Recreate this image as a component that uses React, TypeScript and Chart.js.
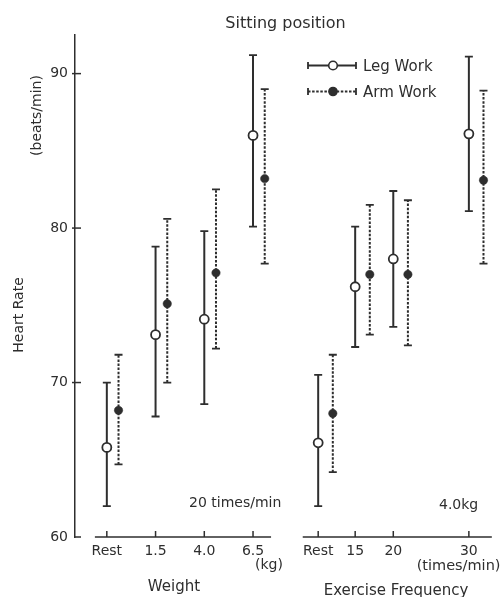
import React, { useEffect, useRef } from 'react';
import { Chart, registerables } from 'chart.js';

Chart.register(...registerables);

// ---------- data ----------
const weightLabels = ['Rest', '1.5', '4.0', '6.5'];
const freqLabels = ['Rest', '15', '20', '30'];

const legWeightMean = [65.8, 73.1, 74.1, 86.0];
const legWeightLow = [62.0, 67.8, 68.6, 80.1];
const legWeightHigh = [70.0, 78.8, 79.8, 91.2];
const armWeightMean = [68.2, 75.1, 77.1, 83.2];
const armWeightLow = [64.7, 70.0, 72.2, 77.7];
const armWeightHigh = [71.8, 80.6, 82.5, 89.0];

const legFreqMean = [66.1, 76.2, 78.0, 86.1];
const legFreqLow = [62.0, 72.3, 73.6, 81.1];
const legFreqHigh = [70.5, 80.1, 82.4, 91.1];
const armFreqMean = [68.0, 77.0, 77.0, 83.1];
const armFreqLow = [64.2, 73.1, 72.4, 77.7];
const armFreqHigh = [71.8, 81.5, 81.8, 88.9];

const yTicks = [60, 70, 80, 90];

// ---------- layout (x positions of the categories on a linear axis) ----------
const WEIGHT_POS = [0, 1, 2, 3];
const FREQ_POS = [4.337, 5.096, 5.878, 7.429];
const ARM_SHIFT_W = 0.24;
const ARM_SHIFT_F = 0.3;
const X_MIN = -0.653;
const X_MAX = 7.959;
const Y_MIN = 60;
const Y_MAX = 92.5;
const LEFT_AXIS_SEG = [-0.245, 3.37];
const RIGHT_AXIS_SEG = [4.02, 7.9];

const INK = '#2e2e2e';
const FONT = '"DejaVu Sans", sans-serif';

const tickPos = [...WEIGHT_POS, ...FREQ_POS];
const tickLabels = [...weightLabels, ...freqLabels];

const legPoints = [
  ...WEIGHT_POS.map((p, i) => ({ x: p, y: legWeightMean[i] })),
  ...FREQ_POS.map((p, i) => ({ x: p, y: legFreqMean[i] })),
];
const armPoints = [
  ...WEIGHT_POS.map((p, i) => ({ x: p + ARM_SHIFT_W, y: armWeightMean[i] })),
  ...FREQ_POS.map((p, i) => ({ x: p + ARM_SHIFT_F, y: armFreqMean[i] })),
];
const legLow = [...legWeightLow, ...legFreqLow];
const legHigh = [...legWeightHigh, ...legFreqHigh];
const armLow = [...armWeightLow, ...armFreqLow];
const armHigh = [...armWeightHigh, ...armFreqHigh];

function text(ctx: CanvasRenderingContext2D, s: string, x: number, y: number, size: number, align: CanvasTextAlign) {
  ctx.font = `${size}px ${FONT}`;
  ctx.textAlign = align;
  ctx.textBaseline = 'alphabetic';
  ctx.fillStyle = INK;
  ctx.fillText(s, x, y);
}

function vtext(ctx: CanvasRenderingContext2D, s: string, x: number, y: number, size: number) {
  ctx.save();
  ctx.translate(x, y);
  ctx.rotate(-Math.PI / 2);
  text(ctx, s, 0, 0, size, 'center');
  ctx.restore();
}

const errorBarPlugin = {
  id: 'errorBars',
  beforeDatasetsDraw(chart: any) {
    const ctx: CanvasRenderingContext2D = chart.ctx;
    const xs = chart.scales.x;
    const ys = chart.scales.y;
    chart.data.datasets.forEach((ds: any) => {
      ctx.save();
      ctx.strokeStyle = INK;
      ds.data.forEach((pt: any, i: number) => {
        const px = xs.getPixelForValue(pt.x);
        const lo = ys.getPixelForValue(ds.errLow[i]);
        const hi = ys.getPixelForValue(ds.errHigh[i]);
        ctx.lineWidth = 2;
        ctx.setLineDash(ds.dashed ? [2.5, 1.6] : []);
        ctx.beginPath();
        ctx.moveTo(px, lo);
        ctx.lineTo(px, hi);
        ctx.stroke();
        ctx.setLineDash([]);
        ctx.lineWidth = 1.8;
        ctx.beginPath();
        ctx.moveTo(px - 4, lo);
        ctx.lineTo(px + 4, lo);
        ctx.moveTo(px - 4, hi);
        ctx.lineTo(px + 4, hi);
        ctx.stroke();
      });
      ctx.restore();
    });
  },
};

const decorPlugin = {
  id: 'decor',
  afterDraw(chart: any) {
    const ctx: CanvasRenderingContext2D = chart.ctx;
    const xs = chart.scales.x;
    const ys = chart.scales.y;
    const left = chart.chartArea.left;
    const base = ys.getPixelForValue(Y_MIN);
    ctx.save();
    ctx.strokeStyle = INK;
    ctx.lineWidth = 1.5;
    // y-axis tick marks
    yTicks.forEach((v) => {
      const y = ys.getPixelForValue(v);
      ctx.beginPath();
      ctx.moveTo(v === Y_MIN ? left : left - 3, y);
      ctx.lineTo(left + 6, y);
      ctx.stroke();
    });
    // x-axis baselines
    [LEFT_AXIS_SEG, RIGHT_AXIS_SEG].forEach((seg) => {
      ctx.beginPath();
      ctx.moveTo(xs.getPixelForValue(seg[0]), base);
      ctx.lineTo(xs.getPixelForValue(seg[1]), base);
      ctx.stroke();
    });
    // x-axis tick marks (upward)
    tickPos.forEach((v) => {
      const x = xs.getPixelForValue(v);
      ctx.beginPath();
      ctx.moveTo(x, base);
      ctx.lineTo(x, base - 6);
      ctx.stroke();
    });

    // legend
    const lx0 = 308;
    const lx1 = 356;
    const lcx = 333;
    [
      { y: 65.5, dashed: false, label: 'Leg Work' },
      { y: 91.5, dashed: true, label: 'Arm Work' },
    ].forEach((it) => {
      ctx.lineWidth = 1.8;
      ctx.setLineDash(it.dashed ? [2.5, 1.6] : []);
      ctx.beginPath();
      ctx.moveTo(lx0, it.y);
      ctx.lineTo(lx1, it.y);
      ctx.stroke();
      ctx.setLineDash([]);
      ctx.beginPath();
      ctx.moveTo(lx0, it.y - 3.5);
      ctx.lineTo(lx0, it.y + 3.5);
      ctx.moveTo(lx1, it.y - 3.5);
      ctx.lineTo(lx1, it.y + 3.5);
      ctx.stroke();
      ctx.beginPath();
      ctx.arc(lcx, it.y, it.dashed ? 4 : 4.3, 0, Math.PI * 2);
      ctx.fillStyle = it.dashed ? INK : '#ffffff';
      ctx.fill();
      ctx.lineWidth = 1.6;
      ctx.stroke();
      text(ctx, it.label, 363, it.y + 5, 15, 'left');
    });

    // texts
    text(ctx, 'Sitting position', 285.5, 28, 16, 'center');
    text(ctx, '20 times/min', 189, 507, 14, 'left');
    text(ctx, '4.0kg', 439, 509, 14, 'left');
    text(ctx, '(kg)', 269, 569, 14, 'center');
    text(ctx, '(times/min)', 500.5, 570, 14.5, 'right');
    text(ctx, 'Weight', 174, 591, 15, 'center');
    text(ctx, 'Exercise Frequency', 396, 595, 15, 'center');
    vtext(ctx, 'Heart Rate', 23, 315, 14);
    vtext(ctx, '(beats/min)', 41, 115.5, 14);
    ctx.restore();
  },
};

export default function App() {
  const canvasRef = useRef<HTMLCanvasElement | null>(null);

  useEffect(() => {
    if (!canvasRef.current) return;
    Chart.defaults.font.family = FONT;
    const chart = new Chart(canvasRef.current, {
      type: 'scatter',
      data: {
        datasets: [
          {
            label: 'Leg Work',
            data: legPoints,
            errLow: legLow,
            errHigh: legHigh,
            dashed: false,
            pointRadius: 4.5,
            pointBackgroundColor: '#ffffff',
            pointBorderColor: INK,
            pointBorderWidth: 1.8,
            showLine: false,
          } as any,
          {
            label: 'Arm Work',
            data: armPoints,
            errLow: armLow,
            errHigh: armHigh,
            dashed: true,
            pointRadius: 4.2,
            pointBackgroundColor: INK,
            pointBorderColor: INK,
            pointBorderWidth: 0.5,
            showLine: false,
          } as any,
        ],
      },
      options: {
        animation: false,
        responsive: false,
        maintainAspectRatio: false,
        devicePixelRatio: 1,
        layout: { padding: { top: 35, right: 4, left: 0, bottom: 0 } },
        plugins: {
          legend: { display: false },
          title: { display: false },
          tooltip: { enabled: false },
        },
        scales: {
          x: {
            type: 'linear',
            min: X_MIN,
            max: X_MAX,
            afterBuildTicks: (s: any) => {
              s.ticks = tickPos.map((v) => ({ value: v }));
            },
            afterFit: (s: any) => {
              s.height = 60;
            },
            ticks: {
              autoSkip: false,
              maxRotation: 0,
              minRotation: 0,
              padding: 6,
              color: INK,
              font: { size: 14, family: FONT },
              callback: (_v: any, i: number) => tickLabels[i],
            },
            grid: { display: false, drawTicks: false },
            border: { display: false },
          },
          y: {
            type: 'linear',
            min: Y_MIN,
            max: Y_MAX,
            afterBuildTicks: (s: any) => {
              s.ticks = yTicks.map((v) => ({ value: v }));
            },
            afterFit: (s: any) => {
              s.width = 75;
            },
            ticks: {
              padding: 7,
              color: INK,
              font: { size: 14, family: FONT },
            },
            grid: { display: false, drawTicks: false },
            border: { display: true, color: INK, width: 1.5 },
          },
        },
      } as any,
      plugins: [errorBarPlugin, decorPlugin],
    });
    return () => chart.destroy();
  }, []);

  return (
    <div style={{ position: 'absolute', left: 0, top: 0, width: 501, height: 597, background: '#fff' }}>
      <canvas ref={canvasRef} width={501} height={597} style={{ display: 'block', width: 501, height: 597 }} />
    </div>
  );
}
